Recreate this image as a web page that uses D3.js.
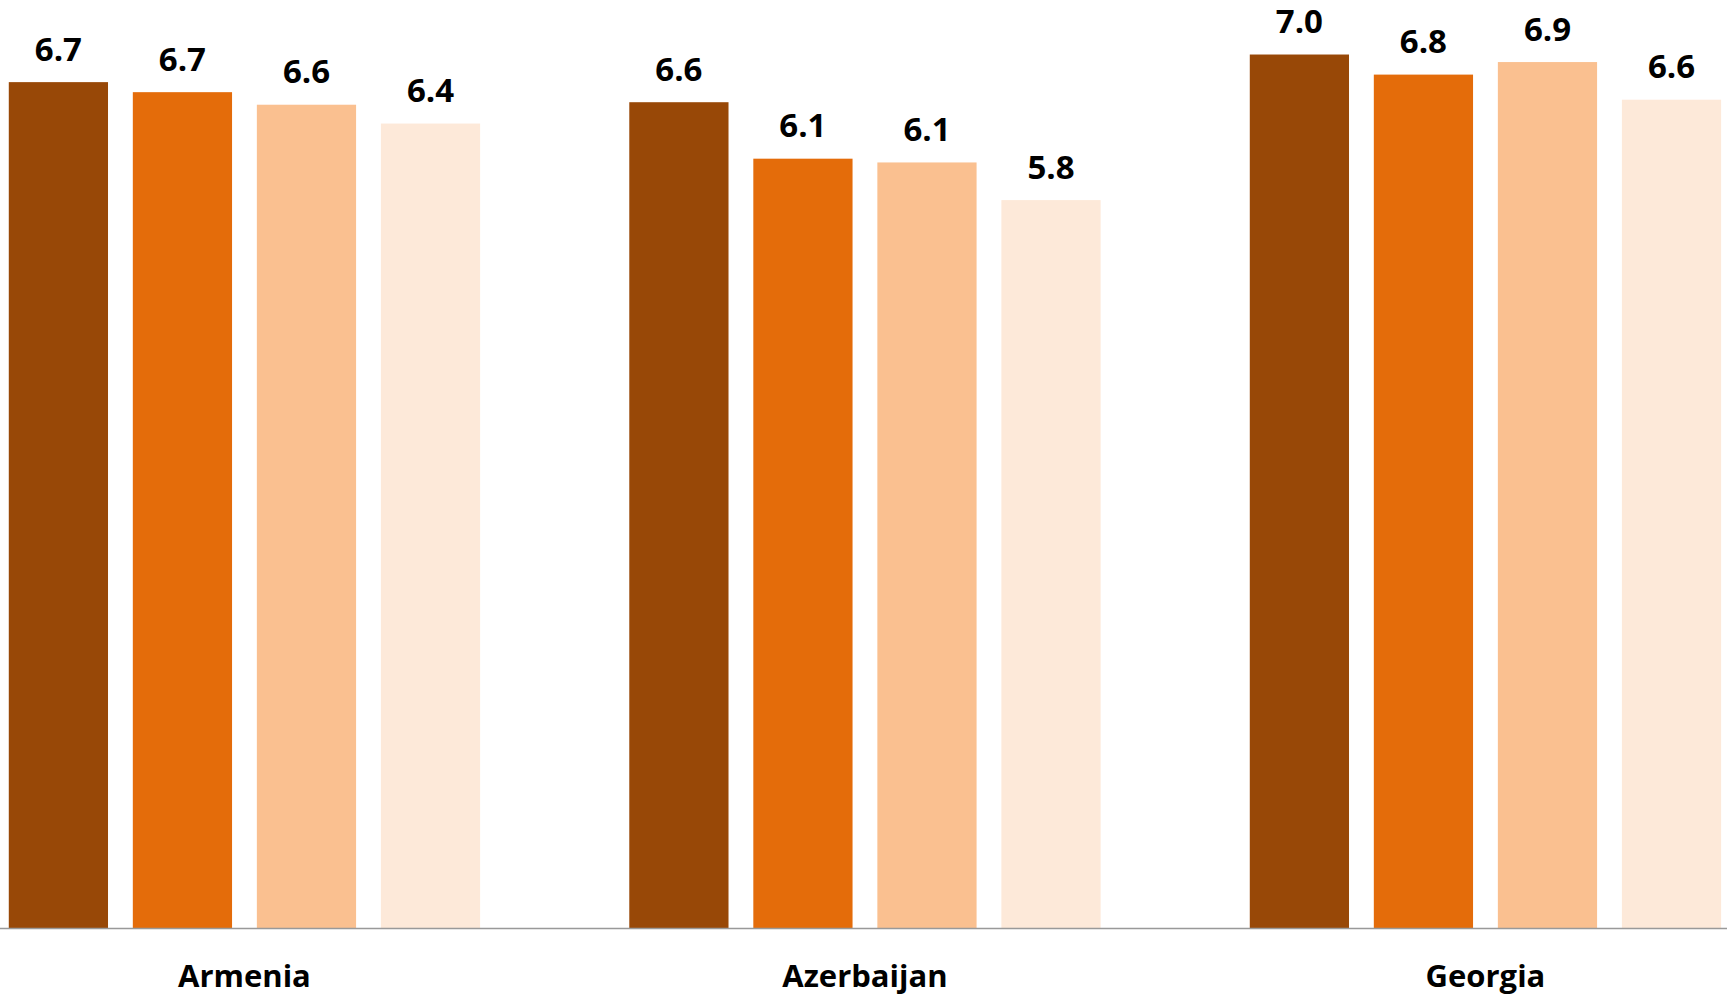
<!DOCTYPE html>
<html>
<head>
<meta charset="utf-8">
<script src="https://cdn.jsdelivr.net/npm/d3@7"></script>
<style>
  html, body { margin: 0; padding: 0; background: #ffffff; overflow: hidden; }
  svg { display: block; }
</style>
</head>
<body>
<svg id="chart" width="1727" height="995"></svg>
<script>
// ---- data ----
const categories = ["Armenia", "Azerbaijan", "Georgia"];
const seriesNames = ["Series 1", "Series 2", "Series 3", "Series 4"];
const seriesColors = ["#984807", "#E46C0A", "#FAC090", "#FDE9D9"];
const series1 = [6.74, 6.58, 6.96];
const series2 = [6.66, 6.13, 6.80];
const series3 = [6.56, 6.10, 6.90];
const series4 = [6.41, 5.80, 6.60];
const seriesValues = [series1, series2, series3, series4];

// ---- layout ----
const W = 1727, H = 995;
const baseY = 928;
const pxPerUnit = 125.5;
const svg = d3.select("#chart");
const FONT = "'Open Sans', Lato, sans-serif";

const y = d3.scaleLinear().domain([0, 7]).range([baseY, baseY - pxPerUnit * 7]);

const x0 = d3.scaleBand().domain(categories).range([-65.8, 1795.7]).paddingInner(0).paddingOuter(0);
const groupW = x0.bandwidth() * 0.7596;
const x1 = d3.scaleBand().domain(seriesNames).range([0, groupW]).paddingInner(0.2).paddingOuter(0);
const groupOffset = (x0.bandwidth() - groupW) / 2;

const rows = [];
categories.forEach((c, ci) => {
  seriesNames.forEach((s, si) => {
    rows.push({ cat: c, ser: s, si: si, v: seriesValues[si][ci] });
  });
});

const g = svg.append("g");

g.selectAll("rect.bar").data(rows).enter().append("rect")
  .attr("class", "bar")
  .attr("x", d => x0(d.cat) + groupOffset + x1(d.ser))
  .attr("width", x1.bandwidth())
  .attr("y", d => y(d.v))
  .attr("height", d => y(0) - y(d.v))
  .attr("fill", d => seriesColors[d.si]);

g.selectAll("text.val").data(rows).enter().append("text")
  .attr("class", "val")
  .attr("x", d => x0(d.cat) + groupOffset + x1(d.ser) + x1.bandwidth() / 2)
  .attr("y", d => y(d.v) - 21.5)
  .attr("text-anchor", "middle")
  .attr("font-family", FONT)
  .attr("font-weight", "bold")
  .attr("font-size", 33)
  .attr("fill", "#000")
  .text(d => d.v.toFixed(1));

// baseline axis
const xAxis = d3.axisBottom(x0).tickSize(0).tickPadding(40);
const axG = svg.append("g").attr("transform", `translate(0,${baseY})`).call(xAxis);
axG.select(".domain").remove();
axG.selectAll("text")
  .attr("font-family", FONT)
  .attr("font-weight", "bold")
  .attr("font-size", 31)
  .attr("fill", "#000")
  .attr("dy", null)
  .attr("y", 59);

svg.append("line")
  .attr("x1", 0).attr("x2", W)
  .attr("y1", baseY + 0.5).attr("y2", baseY + 0.5)
  .attr("stroke", "#999999")
  .attr("stroke-width", 1.3);
</script>
</body>
</html>
